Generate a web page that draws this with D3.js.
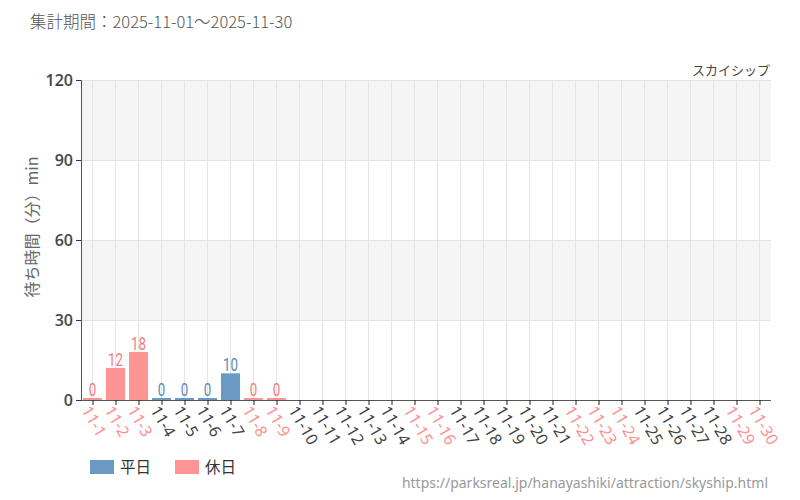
<!DOCTYPE html>
<html><head><meta charset="utf-8">
<script src="https://cdn.jsdelivr.net/npm/d3@7"></script>
<style>body{margin:0;background:#fff;} svg{display:block;font-family:"Noto Sans CJK JP","Noto Sans",sans-serif;}</style>
</head><body>
<svg id="c" width="800" height="500"></svg>
<script>
const days = d3.range(1,31).map(d => "11-" + d);
const holidays = ["11-1","11-2","11-3","11-8","11-9","11-15","11-16","11-22","11-23","11-24","11-29","11-30"];
const waits = [0,12,18,0,0,0,10,0,0,null,null,null,null,null,null,null,null,null,null,null,null,null,null,null,null,null,null,null,null,null];
const yTicks = [0,30,60,90,120];
const title = "集計期間：2025-11-01～2025-11-30";
const attraction = "スカイシップ";
const source = "https://parksreal.jp/hanayashiki/attraction/skyship.html";
const legendItems = [{label:"平日", key:"weekday"},{label:"休日", key:"holiday"}];

const colors = {weekday:"#6a9ac4", holiday:"#ff9494"};
const labelColors = {weekday:"#444", holiday:"#ff8f8f"};
const valueColors = {weekday:"#5b8bb8", holiday:"#f47c7c"};

const svg = d3.select("#c");
const m = {l:81, r:771, t:80, b:400};
const x = d3.scaleBand().domain(days).range([m.l, m.r]).paddingInner(0.17).paddingOuter(0.085);
const xc = d3.scalePoint().domain(days).range([m.l, m.r]).padding(0.5);
const y = d3.scaleLinear().domain([0,120]).range([m.b, m.t]);

for (let i = 0; i < yTicks.length-1; i++) {
  svg.append("rect").attr("x", m.l).attr("width", m.r-m.l)
    .attr("y", y(yTicks[i+1])).attr("height", y(yTicks[i]) - y(yTicks[i+1]))
    .attr("fill", i % 2 === 1 ? "#f5f5f5" : "#fff");
}
svg.append("g").selectAll("line").data(days).join("line")
  .attr("x1", d => xc(d)).attr("x2", d => xc(d)).attr("y1", m.t).attr("y2", m.b)
  .attr("stroke", "#e4e4e4").attr("stroke-width", 1);
svg.append("g").selectAll("line").data(yTicks.slice(1)).join("line")
  .attr("x1", m.l).attr("x2", m.r).attr("y1", d => y(d)+0.5).attr("y2", d => y(d)+0.5)
  .attr("stroke", "#e4e4e4");

const isHol = d => holidays.includes(d);
const data = days.map((d,i) => ({day:d, v:waits[i], k: isHol(d) ? "holiday" : "weekday"}));
const shown = data.filter(d => d.v !== null);

svg.append("g").selectAll("rect").data(shown).join("rect")
  .attr("x", d => x(d.day)).attr("width", x.bandwidth())
  .attr("y", d => Math.min(y(d.v), m.b - 2)).attr("height", d => Math.max(m.b - y(d.v), 2))
  .attr("fill", d => colors[d.k]);
svg.append("g").selectAll("text").data(shown).join("text")
  .attr("transform", d => `translate(${xc(d.day)},${Math.min(y(d.v), m.b-2) - 2}) scale(0.7,1)`)
  .attr("text-anchor", "middle")
  .attr("font-family", "Roboto,sans-serif").attr("font-weight", 400)
  .attr("font-size", 19).attr("fill", d => valueColors[d.k])
  .text(d => d.v);

const ya = svg.append("g").attr("transform", `translate(${m.l},0)`)
  .call(d3.axisLeft(y).tickValues(yTicks).tickSize(5).tickPadding(3));
ya.select(".domain").attr("stroke", "#555");
ya.selectAll(".tick line").attr("stroke", "#333");
ya.selectAll("text").attr("font-size", 16).attr("fill", "#444").attr("font-weight", 600)
  .attr("font-family", "'Open Sans',sans-serif");

const xa = svg.append("g").attr("transform", `translate(0,${m.b})`)
  .call(d3.axisBottom(xc).tickSize(5).tickSizeOuter(0));
xa.select(".domain").attr("stroke", "#555").attr("d", `M${m.l},0.5H${m.r}`);
xa.selectAll(".tick line").attr("stroke", "#222");
xa.selectAll(".tick text")
  .attr("font-size", 16).attr("font-family", "'Noto Sans',sans-serif")
  .attr("fill", d => isHol(d) ? labelColors.holiday : labelColors.weekday)
  .attr("text-anchor", "start").attr("dy", "0")
  .attr("transform", "translate(-5,6) rotate(60)");

svg.append("text").attr("transform", "translate(38,227) rotate(-90)")
  .attr("text-anchor", "middle").attr("font-size", 16).attr("fill", "#666")
  .text("待ち時間（分）min");

svg.append("text").attr("x", 30).attr("y", 28).attr("font-size", 16.5).attr("font-weight", 300).attr("fill", "#555").text(title);
svg.append("text").attr("x", 770).attr("y", 75).attr("text-anchor", "end").attr("font-size", 13).attr("fill", "#444").text(attraction);

const lg = svg.append("g").selectAll("g").data(legendItems).join("g")
  .attr("transform", (d,i) => `translate(${90 + i*85},460)`);
lg.append("rect").attr("width", 24).attr("height", 14).attr("fill", d => colors[d.key]);
lg.append("text").attr("x", 30).attr("y", 13).attr("font-size", 15.5).attr("fill", "#333").text(d => d.label);

svg.append("text").attr("x", 768).attr("y", 488).attr("text-anchor", "end")
  .attr("font-size", 14).attr("fill", "#999").attr("font-family", "'Noto Sans',sans-serif").text(source);
</script>
</body></html>
